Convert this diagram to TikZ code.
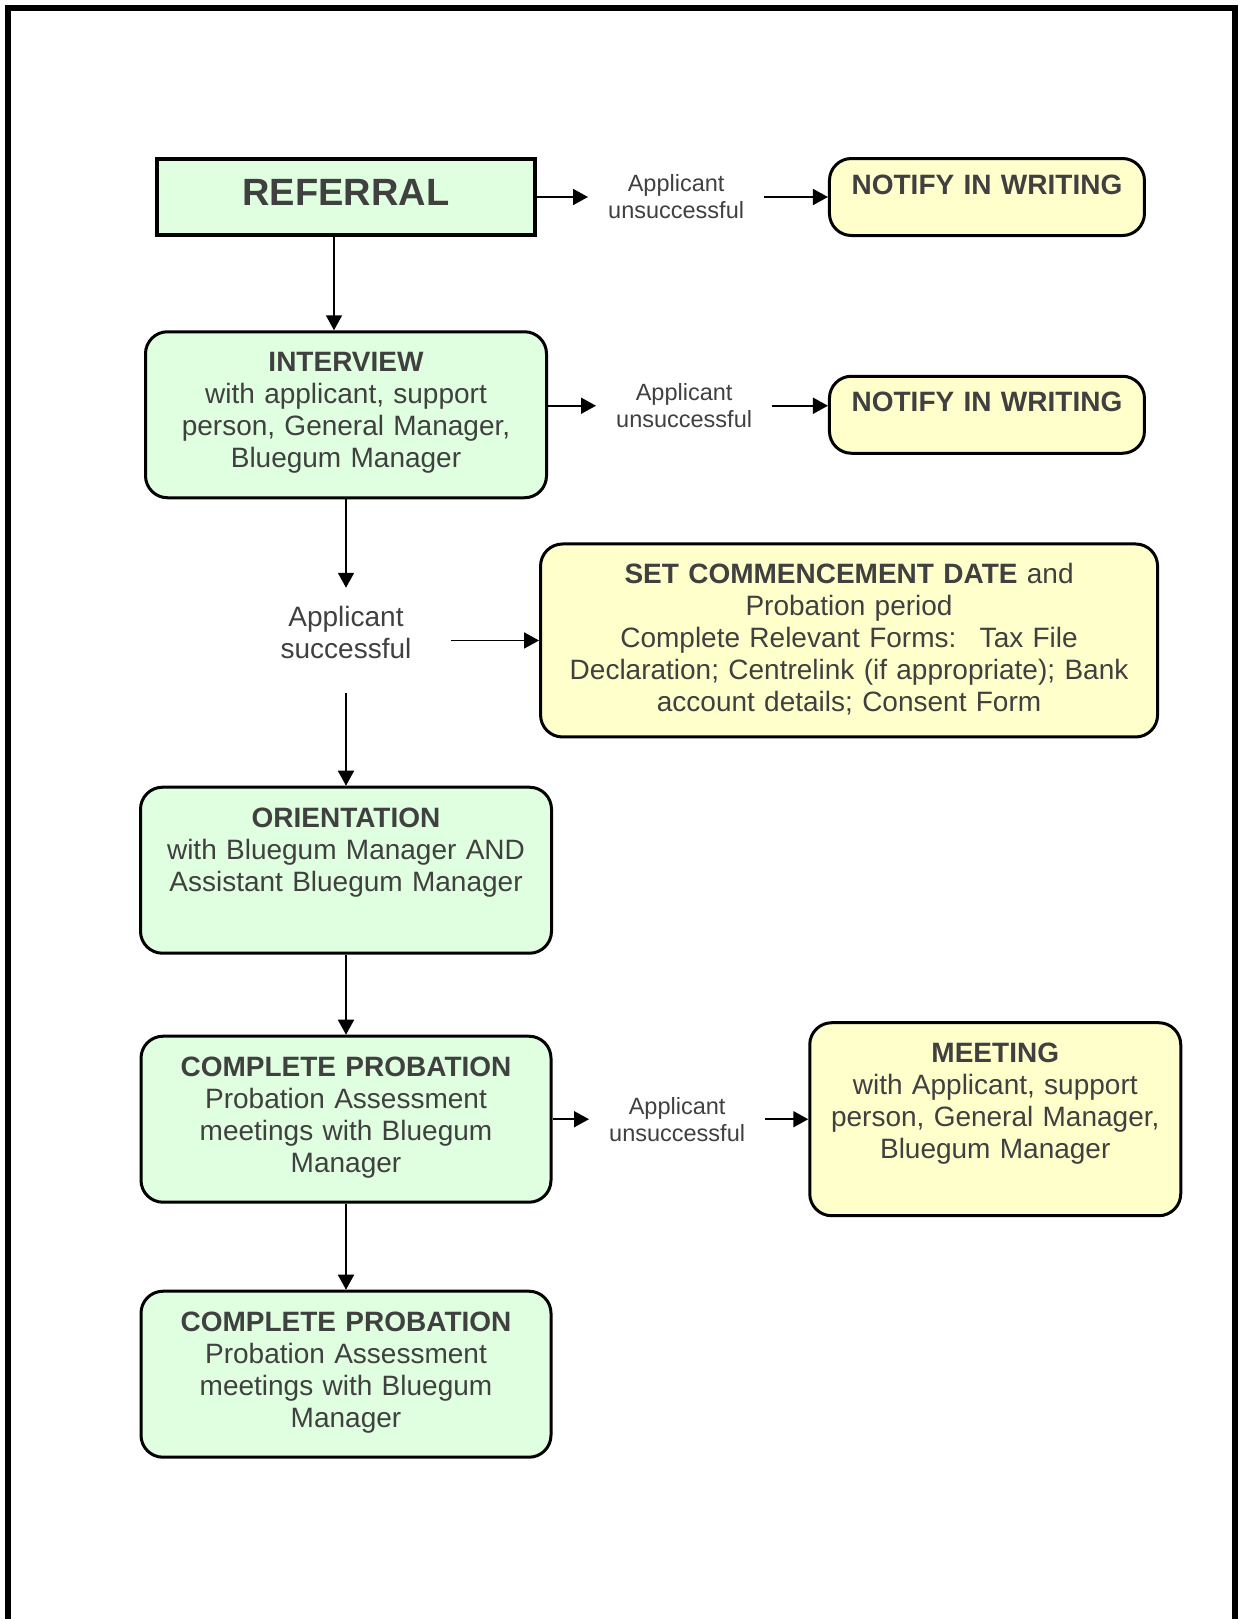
\documentclass[tikz,border=0pt]{standalone}
\usepackage{fontspec}
\setmainfont{Liberation Sans}
\usetikzlibrary{arrows.meta, positioning}

\definecolor{inkgray}{RGB}{64,64,64}
\definecolor{boxgreen}{RGB}{224,255,224}
\definecolor{boxyellow}{RGB}{255,255,204}

\begin{document}
\begin{tikzpicture}[x=1pt, y=-1pt, >={Triangle[length=15pt,width=16pt]},
    stage/.style={rectangle, draw, line width=3pt, fill=boxgreen, text=inkgray, text centered, rounded corners=22pt, inner sep=8pt, text height=32pt, text depth=118pt, font=\fontsize{28}{32}\selectfont},
    notice/.style={stage, fill=boxyellow},
    note/.style={align=center, text=inkgray, inner xsep=20pt, inner ysep=4pt, font=\fontsize{23.5}{27}\selectfont},
    arrow/.style={line width=1.8pt, ->}
]
    \useasboundingbox (0,0) rectangle (1245,1619);
    % Page frame
    \draw [line width=6pt] (8,1619) -- (8,8) -- (1235,8) -- (1235,1619);

    % Main column
    \node [rectangle, draw, line width=4.5pt, fill=boxgreen, text=inkgray, minimum width=378pt, inner sep=0pt, text height=46pt, text depth=30pt, font=\fontsize{38}{44}\selectfont\bfseries] (referral) at (346,197) {REFERRAL};
    \node [stage, text width=385pt, below=93pt of referral] (interview) {\textbf{INTERVIEW}\\ with applicant, support\\ person, General Manager,\\ Bluegum Manager};
    \node [align=center, text=inkgray, inner xsep=39pt, inner ysep=18pt, font=\fontsize{28}{32}\selectfont, below=88.5pt of interview] (success) {Applicant\\ successful};
    \node [stage, text width=395pt, below=109pt of success] (orientation) {\textbf{ORIENTATION}\\ with Bluegum Manager AND\\ Assistant Bluegum Manager};
    \node [stage, text width=394pt, below=80pt of orientation] (probation1) {\textbf{COMPLETE PROBATION}\\ Probation Assessment\\ meetings with Bluegum\\ Manager};
    \node [stage, text width=394pt, below=86pt of probation1] (probation2) {\textbf{COMPLETE PROBATION}\\ Probation Assessment\\ meetings with Bluegum\\ Manager};

    % Right column
    \node [note, right=50.75pt of referral] (fail1) {Applicant\\ unsuccessful};
    \node [notice, text width=299pt, text height=27.5pt, text depth=33.5pt, right=63.7pt of fail1] (notify1) {\textbf{NOTIFY IN WRITING}};
    \node [note, right=48pt of interview, yshift=9pt] (fail2) {Applicant\\ unsuccessful};
    \node [notice, text width=299pt, text height=27.5pt, text depth=33.5pt, right=55.7pt of fail2, yshift=-9pt] (notify2) {\textbf{NOTIFY IN WRITING}};
    \node [notice, text width=601pt, text depth=145pt, right=88.5pt of success, yshift=-8.25pt] (commence) {\textbf{SET COMMENCEMENT DATE} and\\ Probation period\\ Complete Relevant Forms:~ Tax File\\ Declaration; Centrelink (if appropriate); Bank\\ account details; Consent Form};
    \node [note, right=36.5pt of probation1] (fail3) {Applicant\\ unsuccessful};
    \node [notice, text width=355pt, text depth=145pt, right=43pt of fail3] (meeting) {\textbf{MEETING}\\ with Applicant, support\\ person, General Manager,\\ Bluegum Manager};

    % Draw edges
    \draw [arrow] ([xshift=-12pt]referral.south) -- ([xshift=-12pt]interview.north);
    \draw [arrow] (interview) -- (success);
    \draw [arrow, shorten <=16pt] (success) -- (orientation);
    \draw [arrow] (orientation) -- (probation1);
    \draw [arrow] (probation1) -- (probation2);
    \draw [arrow] (referral) -- (fail1);
    \draw [arrow] (fail1) -- (notify1);
    \draw [arrow] (interview.east |- fail2.west) -- (fail2);
    \draw [arrow] (fail2) -- (fail2 -| notify2.west);
    \draw [arrow] (success.east |- commence.west) -- (commence);
    \draw [arrow] (probation1) -- (fail3);
    \draw [arrow] (fail3) -- (meeting);
\end{tikzpicture}
\end{document}
